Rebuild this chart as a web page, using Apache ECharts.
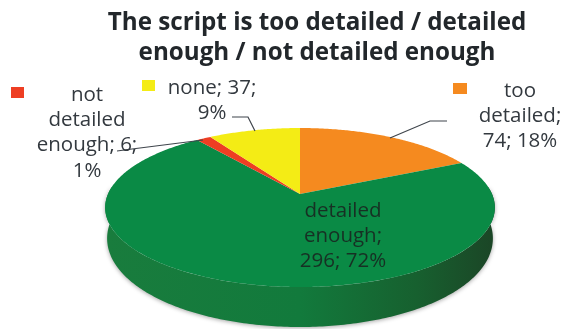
<!DOCTYPE html>
<html><head><meta charset="utf-8">
<script src="https://cdn.jsdelivr.net/npm/echarts@6/dist/echarts.min.js"></script>
<style>html,body{margin:0;padding:0;background:#fff}#c{width:566px;height:329px;filter:blur(0.55px)}</style>
</head><body><div id="c"></div>
<script>
const categories = ['too detailed', 'detailed enough', 'not detailed enough', 'none'];
const values = [74, 296, 6, 37];
const percents = [18, 72, 1, 9];
const colors = ['#f58a1f', '#0a8a45', '#ee3e23', '#f4ec15'];
const labelLines = [
  ['too', 'detailed;', '74; 18%'],
  ['detailed', 'enough;', '296; 72%'],
  ['not', 'detailed', 'enough; 6;', '1%'],
  ['none; 37;', '9%']
];
const titleText = 'The script is too detailed / detailed\nenough / not detailed enough';

// layout
const labelPos = [[520, 91], [343, 211], [87, 95], [212, 88]];
const lineH = 25.3;
const keys = [[453, 83, 14, 11], [0, 0, 0, 0], [11, 87, 13, 11], [142, 80, 13, 11]];
const leaders = [
  [[390, 138], [430, 121], [447, 121]],
  null,
  [[203, 140], [132, 149], [117, 151]],
  [[255, 131], [248, 117], [232, 117]]
];
const cx = 300, cy = 194, a = 77.2, b = 192, k = 0.17;
const font = '20.5px "Open Sans", sans-serif';
const textColor = '#33393f';

function project(theta) { // theta clockwise from 12 o'clock, radians
  const u = Math.sin(theta), v = Math.cos(theta), w = 1 + k * v;
  return [cx + b * u / w, cy - a * v / w];
}
const total = values.reduce((s, x) => s + x, 0);
let acc = 0;
const starts = values.map(x => { const s = acc; acc += x; return s; });

function sliceItem(params, api) {
  const i = params.dataIndex, val = api.value(0);
  const t0 = starts[i] / total * 2 * Math.PI, t1 = t0 + val / total * 2 * Math.PI;
  const pts = [[cx, cy]];
  const n = Math.max(4, Math.ceil((t1 - t0) / 0.01));
  for (let j = 0; j <= n; j++) pts.push(project(t0 + (t1 - t0) * j / n));
  const children = [{ type: 'polygon', shape: { points: pts }, style: { fill: colors[i] } }];
  return { type: 'group', children };
}
function labelItem(params, api) {
  const i = params.dataIndex;
  const children = [];
  if (leaders[i]) children.push({ type: 'polyline', shape: { points: leaders[i] },
    style: { stroke: '#3f454c', lineWidth: 1.2, fill: null } });
  if (keys[i][2]) children.push({ type: 'rect', shape: { x: keys[i][0], y: keys[i][1], width: keys[i][2], height: keys[i][3] },
    style: { fill: colors[i] } });
  labelLines[i].forEach((t, j) => children.push({ type: 'text',
    style: { text: t, x: labelPos[i][0], y: labelPos[i][1] + j * lineH, align: 'center', verticalAlign: 'middle',
      font, fill: i === 1 ? '#173024' : textColor } }));
  return { type: 'group', children };
}
function sideItem(params, api) {
  const pts = [];
  const depth = th => 29 - 11 * Math.cos(th); // deeper toward the viewer
  const tA = Math.PI * 0.47, tB = Math.PI * 1.53, n = 240;
  for (let j = 0; j <= n; j++) pts.push(project(tA + (tB - tA) * j / n));
  for (let j = n; j >= 0; j--) {
    const th = tA + (tB - tA) * j / n, p = project(th);
    pts.push([cx + (p[0] - cx) * 0.99, p[1] + depth(th)]);
  }
  return { type: 'polygon', shape: { points: pts }, style: {
    fill: new echarts.graphic.LinearGradient(0, 0, 1, 0, [
      { offset: 0, color: '#197c3d' }, { offset: 0.5, color: '#127a3c' },
      { offset: 0.8, color: '#17602f' }, { offset: 1, color: '#1b4526' }]),
    shadowBlur: 4, shadowColor: 'rgba(0,0,0,0.35)', shadowOffsetY: 1 } };
}

const chart = echarts.init(document.getElementById('c'), null, { renderer: 'canvas' });
const seriesData = categories.map((name, i) => ({ name, value: [values[i], percents[i]] }));
chart.setOption({
  animation: false,
  title: { text: titleText, left: 312, top: 3, textAlign: 'center',
    textStyle: { fontFamily: '"Open Sans", sans-serif', fontWeight: 'bold', fontSize: 24.2, lineHeight: 30, color: '#22272b' } },
  series: [
    { type: 'custom', coordinateSystem: 'none', renderItem: sideItem, data: [[total]], z: 1, silent: true },
    { type: 'custom', coordinateSystem: 'none', renderItem: sliceItem, data: seriesData, z: 2 },
    { type: 'custom', coordinateSystem: 'none', renderItem: labelItem, data: seriesData, z: 3, silent: true }
  ]
});
</script></body></html>
